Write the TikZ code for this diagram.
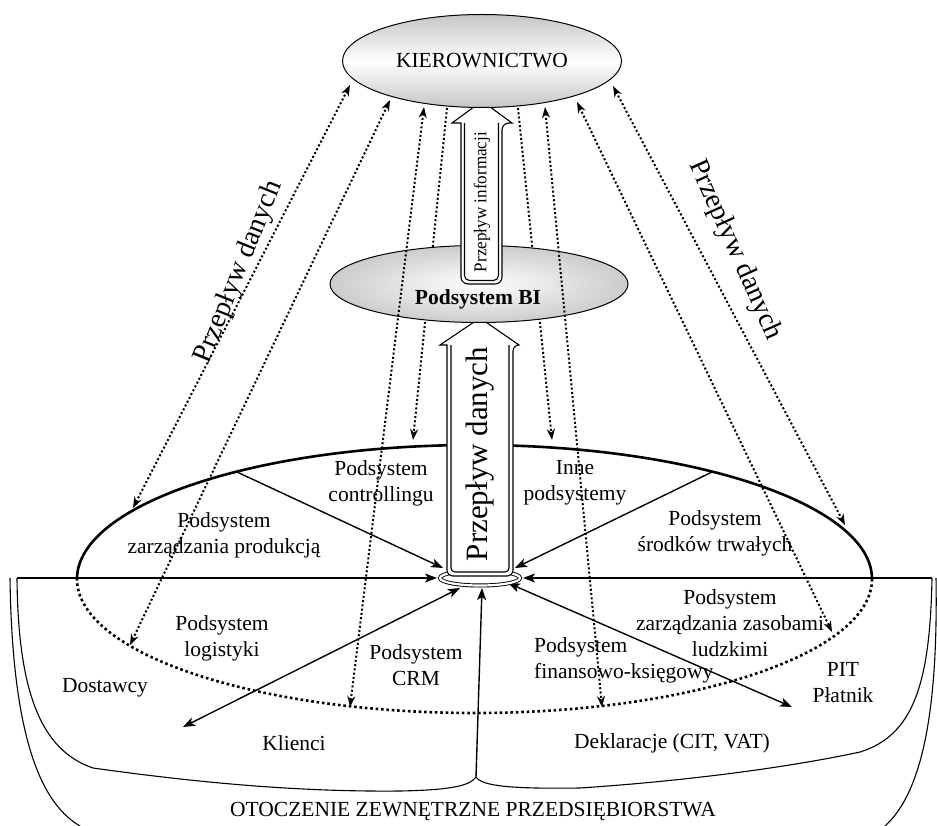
\documentclass[tikz,border=0pt]{standalone}
\usepackage{fontspec}
\setmainfont{Liberation Serif}
\usetikzlibrary{arrows.meta,shapes.geometric}
\tikzset{
  txt/.style={font=\fontsize{21.5}{26}\selectfont, align=center, inner sep=0pt},
  dotarrow/.style={line width=2pt, dash pattern=on 2pt off 2.3pt},
  dtip/.tip={Stealth[length=11pt,width=8pt]},
  conv/.style={line width=1.4pt},
  ctip/.tip={Stealth[length=12pt,width=9pt,inset=3pt]},
  bound/.style={line width=1.1pt},
  hollow/.style={draw=black, line width=1.1pt, fill=white},
  sidelabel/.style={txt, font=\fontsize{28}{32}\selectfont}
}
\begin{document}
\begin{tikzpicture}[x=1pt,y=-1pt]
\useasboundingbox (0,0) rectangle (937,826);

% ---------- outer environment boundary ----------
\draw[bound] (10,578) .. controls (12,720) and (35,800) .. (80,826);
\draw[bound] (17,578) .. controls (18,690) and (40,750) .. (93,768)
   .. controls (200,783) and (300,792) .. (400,791)
   .. controls (450,790) and (470,786) .. (476,777);
\draw[bound] (476,777) .. controls (482,786) and (510,789) .. (580,788)
   .. controls (700,780) and (800,765) .. (860,752)
   .. controls (915,735) and (930,680) .. (932,578);
\draw[bound] (936,578) .. controls (938,700) and (925,790) .. (885,826);

% ---------- big ellipse ----------
\draw[line width=2.6pt] (77,579) arc[start angle=180, end angle=360, x radius=397.5, y radius=134];
\draw[line width=2.6pt, dash pattern=on 2.6pt off 2.8pt] (872,579) arc[start angle=0, end angle=180, x radius=397.5, y radius=134];

% ---------- coordinates ----------
\coordinate (hl) at (17,578);
\coordinate (hr) at (932,578);
\coordinate (cl) at (437,578);
\coordinate (cr) at (523,578);
\coordinate (ul) at (237,472);
\coordinate (ulE) at (443,568);
\coordinate (ur) at (712,472);
\coordinate (urE) at (515,568);
\coordinate (ll) at (183,727);
\coordinate (llE) at (460,588);
\coordinate (lr) at (792,707);
\coordinate (lrE) at (508,583);
\coordinate (cusp) at (476,777);
\coordinate (bE) at (482,588);

% ---------- dotted lines behind BI ----------
\coordinate (t2) at (447,108); \coordinate (b2) at (413,440);
\coordinate (t3) at (518,108); \coordinate (b3) at (552,440);
\draw[dotarrow, -dtip] (t2) -- (b2);
\draw[dotarrow, -dtip] (t3) -- (b3);

% ---------- converging solid arrows ----------
\draw[conv, -ctip] (hl) -- (cl);
\draw[conv, -ctip] (hr) -- (cr);
\draw[conv, -ctip] (ul) -- (ulE);
\draw[conv, -ctip] (ur) -- (urE);
\draw[conv, ctip-ctip] (ll) -- (llE);
\draw[conv, ctip-ctip] (lrE) -- (lr);
\draw[conv, -ctip] (cusp) -- (bE);

% ---------- ring at base ----------
\node[ellipse, draw=black, line width=0.9pt, double=white, double distance=2.2pt, fill=white,
      minimum width=80pt, minimum height=15pt, inner sep=0pt] (ring) at (480,578) {};

% ---------- big data arrow ----------
\draw[hollow, rounded corners=6pt] (447,345) -- (447,576) -- (513,576) -- (513,345) [sharp corners] -- (519,345) -- (480,318) -- (440,345) -- cycle;
\draw[line width=1.1pt, rounded corners=4pt] (451,345) -- (451,572) -- (509,572) -- (509,345);
\node[txt, font=\fontsize{31}{36}\selectfont, rotate=90] (pd) at (480,454) {Przepływ danych};

% ---------- BI ellipse ----------
\node[ellipse, draw=black, line width=1pt, inner color=white, outer color=gray!40,
      minimum width=298pt, minimum height=77pt, inner sep=0pt] (bi) at (479,284) {};
\node[txt, font=\fontsize{21.5}{26}\selectfont\bfseries] (bit) at (478,299) {Podsystem BI};

% ---------- info arrow ----------
\draw[hollow, rounded corners=7pt] (461,123) -- (461,284) -- (502,284) -- (502,123) [sharp corners] -- (512,123) -- (482,101) -- (452,123) -- cycle;
\draw[line width=1.1pt, rounded corners=5pt] (464.5,123) -- (464.5,280.5) -- (498.5,280.5) -- (498.5,123);
\node[txt, font=\fontsize{18}{22}\selectfont, rotate=90, xscale=0.95] (pi) at (482,202) {Przepływ informacji};

% ---------- KIEROWNICTWO ----------
\node[ellipse, draw=black, line width=1pt, top color=gray!45, bottom color=gray!45, middle color=white,
      minimum width=279pt, minimum height=93pt, inner sep=0pt] (kier) at (482,61) {};
\node[txt] (kiert) at (482,61) {KIEROWNICTWO};

% ---------- dotted double arrows ----------
\coordinate (ta) at (350,85);  \coordinate (ba) at (133,508);
\coordinate (tb) at (390,100); \coordinate (bb) at (130,645);
\coordinate (t1) at (424,107); \coordinate (b1) at (350,707);
\coordinate (t4) at (545,107); \coordinate (b4) at (602,707);
\coordinate (t5) at (577,102); \coordinate (b5) at (832,632);
\coordinate (t6) at (613,86);  \coordinate (b6) at (845,525);
\draw[dotarrow, dtip-dtip] (ta) -- (ba);
\draw[dotarrow, dtip-dtip] (tb) -- (bb);
\draw[dotarrow, dtip-dtip] (t1) -- (b1);
\draw[dotarrow, dtip-dtip] (t4) -- (b4);
\draw[dotarrow, dtip-dtip] (t5) -- (b5);
\draw[dotarrow, dtip-dtip] (t6) -- (b6);

% ---------- rotated flow labels ----------
\node[sidelabel, rotate=68] (pdl) at (239,272) {Przepływ danych};
\node[sidelabel, rotate=-66] (pdr) at (735,250) {Przepływ danych};

% ---------- subsystem labels ----------
\node[txt] (s1) at (381,483) {Podsystem\\controllingu};
\node[txt] (s2) at (575,483) {Inne\\podsystemy};
\node[txt] (s3) at (224,535) {Podsystem\\zarządzania produkcją};
\node[txt] (s4) at (715,533) {Podsystem\\środków trwałych};
\node[txt] (s5) at (222,638) {Podsystem\\logistyki};
\node[txt] (s6) at (416,665) {Podsystem\\CRM};
\node[txt, align=left, anchor=west] (s7) at (534,660) {Podsystem\\finansowo-księgowy};
\node[txt] (s8) at (730,623) {Podsystem\\zarządzania zasobami\\ludzkimi};

% ---------- environment labels ----------
\node[txt] (e1) at (105,688) {Dostawcy};
\node[txt] (e2) at (294,743) {Klienci};
\node[txt] (e3) at (672,743) {Deklaracje (CIT, VAT)};
\node[txt] (e4) at (843,683) {PIT\\Płatnik};
\node[txt] (e5) at (473,811) {OTOCZENIE ZEWNĘTRZNE PRZEDSIĘBIORSTWA};
\end{tikzpicture}
\end{document}
